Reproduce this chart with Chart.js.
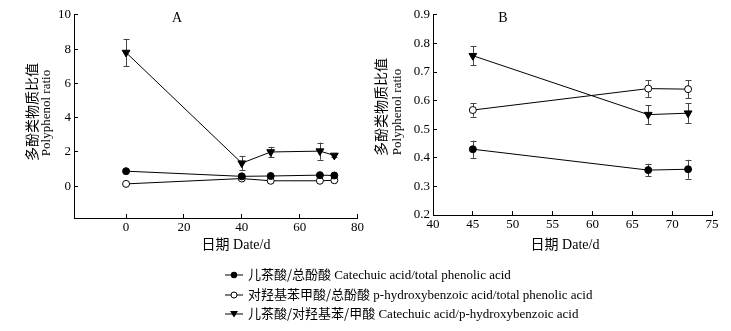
<!DOCTYPE html>
<html>
<head>
<meta charset="utf-8">
<script src="https://cdn.jsdelivr.net/npm/chart.js@4.4.0/dist/chart.umd.min.js"></script>
<style>
body{margin:0;background:#fff;width:731px;height:331px;overflow:hidden;position:relative;font-family:"Liberation Serif","Noto Sans CJK SC",serif;color:#000}
canvas{position:absolute;top:0}
.t{position:absolute;white-space:nowrap;font-size:14px;line-height:14px}
.yt{transform:translate(-50%,-50%) rotate(-90deg)}
.xt{transform:translate(-50%,-50%)}
.cn{font-family:"Noto Sans CJK SC",sans-serif;font-size:13px}
#legend{position:absolute;left:225px;top:264px;font-size:13px}
#legend div{height:19.5px;line-height:19px;white-space:nowrap}
#legend svg{vertical-align:middle;margin-right:5px;position:relative;top:-1px}
</style>
</head>
<body>
<div style="position:absolute;left:0;top:0;width:370px;height:235px"><canvas id="chartA"></canvas></div>
<div style="position:absolute;left:370px;top:0;width:361px;height:235px"><canvas id="chartB"></canvas></div>

<div class="t yt cn" style="left:31px;top:112px;font-size:14px">多酚类物质比值</div>
<div class="t yt" style="left:46px;top:113px;font-size:13px">Polyphenol ratio</div>
<div class="t xt" style="left:236px;top:244px"><span class="cn" style="font-size:14px">日期</span> Date/d</div>
<div class="t xt" style="left:177px;top:18px">A</div>

<div class="t yt cn" style="left:380px;top:107px;font-size:14px">多酚类物质比值</div>
<div class="t yt" style="left:397px;top:112px;font-size:13px">Polyphenol ratio</div>
<div class="t xt" style="left:565px;top:244px"><span class="cn" style="font-size:14px">日期</span> Date/d</div>
<div class="t xt" style="left:503px;top:18px">B</div>

<div id="legend">
<div><svg width="18" height="8"><line x1="0" y1="4" x2="18" y2="4" stroke="#000"/><circle cx="9" cy="4" r="3.2" fill="#000"/></svg><span class="cn">儿茶酸/总酚酸</span> Catechuic acid/total phenolic acid</div>
<div><svg width="18" height="8"><line x1="0" y1="4" x2="18" y2="4" stroke="#000"/><circle cx="9" cy="4" r="3" fill="#fff" stroke="#000"/></svg><span class="cn">对羟基苯甲酸/总酚酸</span> p-hydroxybenzoic acid/total phenolic acid</div>
<div><svg width="18" height="8"><line x1="0" y1="4" x2="18" y2="4" stroke="#000"/><polygon points="5,1 13,1 9,7.5" fill="#000"/></svg><span class="cn">儿茶酸/对羟基苯/甲酸</span> Catechuic acid/p-hydroxybenzoic acid</div>
</div>

<script>
// panel A
const daysA=[0,40,50,67,72]
const catTotalA=[0.88,0.58,0.6,0.65,0.63]
const hydTotalA=[0.14,0.45,0.32,0.32,0.35]
const catHydA=[7.8,1.35,2.0,2.05,1.8]
const catHydErrA=[0.8,0.42,0.3,0.5,0.1]

// panel B
const daysB=[45,67,72]
const catTotalB=[0.43,0.357,0.36]
const catTotalErrB=[0.03,0.022,0.033]
const hydTotalB=[0.567,0.642,0.64]
const hydTotalErrB=[0.023,0.029,0.031]
const catHydB=[0.757,0.551,0.556]
const catHydErrB=[0.034,0.033,0.034]

const FONT={family:"'Liberation Serif', serif",size:13}

function pts(xs,ys){return xs.map((x,i)=>({x:x,y:ys[i]}))}

const errorBarPlugin={
  id:'errorBars',
  beforeDatasetsDraw(chart){
    const ctx=chart.ctx, ys=chart.scales.y
    chart.data.datasets.forEach((ds,i)=>{
      if(!ds.err) return
      const meta=chart.getDatasetMeta(i)
      ctx.save()
      ctx.strokeStyle='#444'
      ctx.lineWidth=1
      meta.data.forEach((p,j)=>{
        const e=ds.err[j]
        if(!e) return
        const v=ds.data[j].y
        const top=ys.getPixelForValue(v+e), bot=ys.getPixelForValue(v-e)
        const x=Math.round(p.x)+0.5
        ctx.beginPath()
        ctx.moveTo(x,top);ctx.lineTo(x,bot)
        ctx.moveTo(x-3,Math.round(top)+0.5);ctx.lineTo(x+3,Math.round(top)+0.5)
        ctx.moveTo(x-3,Math.round(bot)+0.5);ctx.lineTo(x+3,Math.round(bot)+0.5)
        ctx.stroke()
      })
      ctx.restore()
    })
  }
}

function series(xs,ys,err,style){
  const base={data:pts(xs,ys),err:err,borderColor:'#000',borderWidth:1,tension:0,
    pointBorderColor:'#000',pointBorderWidth:1}
  if(style==='filled') Object.assign(base,{pointStyle:'circle',pointRadius:3.5,pointBackgroundColor:'#000'})
  if(style==='open') Object.assign(base,{pointStyle:'circle',pointRadius:3.5,pointBackgroundColor:'#fff'})
  if(style==='tri') Object.assign(base,{pointStyle:'triangle',pointRadius:4.5,pointRotation:180,pointBackgroundColor:'#000'})
  return base
}

function axis(min,max,step,fitSize,horizontal){
  return {
    type:'linear',min:min,max:max,
    grid:{display:true,drawOnChartArea:false,drawTicks:true,tickLength:-4,color:'#000'},
    border:{display:true,color:'#000',width:1},
    ticks:{stepSize:step,color:'#000',font:FONT,padding:horizontal?6:7},
    afterBuildTicks(s){s.ticks=s.ticks.filter(t=>Math.abs(Math.round(t.value/step)*step-t.value)<1e-9)},
    afterFit(s){if(horizontal) s.height=fitSize; else s.width=fitSize}
  }
}

function makeChart(id,datasets,xAx,yAx,pad){
  return new Chart(document.getElementById(id),{
    type:'line',
    data:{datasets:datasets},
    options:{
      responsive:true,maintainAspectRatio:false,animation:false,
      layout:{padding:pad},
      plugins:{legend:{display:false},tooltip:{enabled:false}},
      scales:{x:xAx,y:yAx}
    },
    plugins:[errorBarPlugin]
  })
}

makeChart('chartA',[
  series(daysA,catTotalA,null,'filled'),
  series(daysA,hydTotalA,null,'open'),
  series(daysA,catHydA,catHydErrA,'tri')
],axis(-18,80,20,17,true),axis(-1.85,10,2,74,false),{left:0,right:10,top:12,bottom:0})

makeChart('chartB',[
  series(daysB,catTotalB,catTotalErrB,'filled'),
  series(daysB,hydTotalB,hydTotalErrB,'open'),
  series(daysB,catHydB,catHydErrB,'tri')
],axis(40,75,5,20,true),axis(0.2,0.9,0.1,63,false),{left:0,right:19,top:13,bottom:0})
</script>
</body>
</html>
